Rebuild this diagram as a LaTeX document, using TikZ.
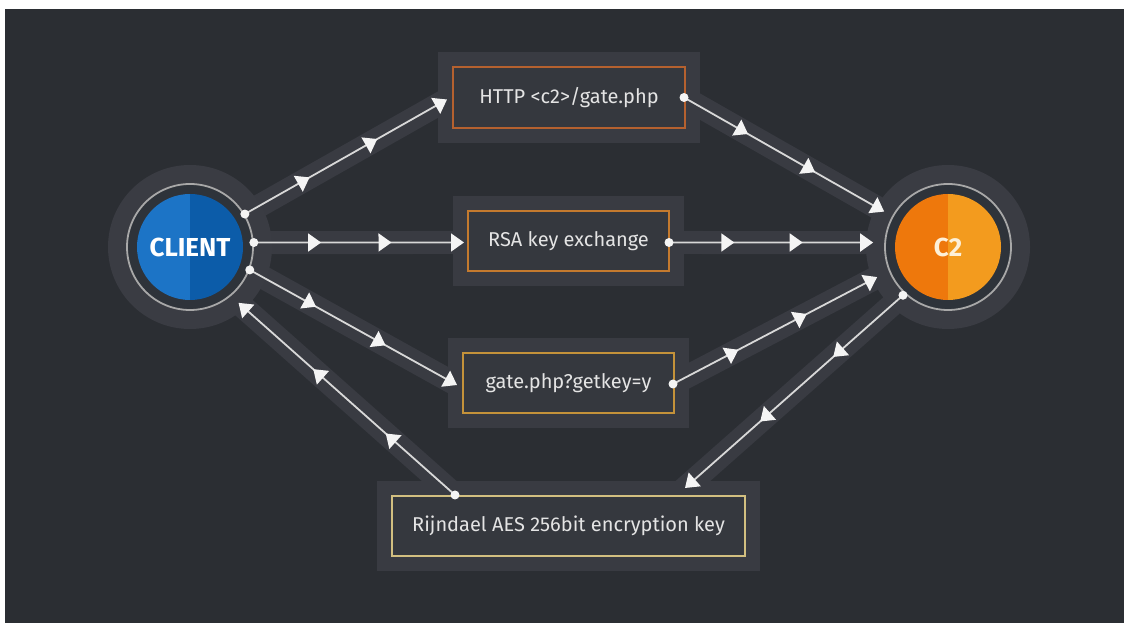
\documentclass[tikz,border=0pt]{standalone}
\usepackage{fontspec}
\setmainfont{Fira Sans}
\usetikzlibrary{arrows.meta,decorations.markings,calc,fit,backgrounds}
\definecolor{bgc}{HTML}{2B2E33}
\definecolor{panelc}{HTML}{393B42}
\definecolor{haloc}{HTML}{3A3C43}
\definecolor{bandc}{HTML}{393B42}
\definecolor{boxin}{HTML}{35383E}
\definecolor{ringin}{HTML}{2E333A}
\definecolor{ringc}{HTML}{A8A8A8}
\definecolor{linec}{HTML}{D8D8D8}
\definecolor{arrc}{HTML}{F4F4F4}
\definecolor{txtc}{HTML}{E4E4E4}
\definecolor{blueL}{HTML}{1C74C6}
\definecolor{blueR}{HTML}{0C5CA9}
\definecolor{orL}{HTML}{EE780C}
\definecolor{orR}{HTML}{F39B1E}
\definecolor{bhttp}{HTML}{B5612F}
\definecolor{brsa}{HTML}{C47A2E}
\definecolor{bgate}{HTML}{C4923A}
\definecolor{baes}{HTML}{D2BF80}
\begin{document}
\begin{tikzpicture}[x=1pt,y=1pt,
  ring/.style={circle, minimum size=126pt, inner sep=0pt, draw=ringc, line width=1.8pt, fill=ringin},
  box/.style={rectangle, minimum height=60pt, inner sep=0pt, fill=boxin, line width=2pt, text=txtc, font=\fontsize{20}{24}\selectfont},
  panel/.style={rectangle, fill=panelc, inner sep=14pt},
  band/.style={draw=bandc, line width=23pt, shorten <=-40pt, shorten >=-30pt},
  conn/.style={draw=linec, line width=1.8pt, -{Triangle[length=13pt,width=18pt,color=arrc]},
    postaction={decorate},
    decoration={markings,
      mark=at position 0.32 with {\arrow{Triangle[length=13pt,width=18pt,color=arrc]}},
      mark=at position 0.655 with {\arrow{Triangle[length=13pt,width=18pt,color=arrc]}}}},
  dot/.style={fill=arrc}
]
\useasboundingbox (0,0) rectangle (1124,628);

% circles
\node[ring, text=white, font=\bfseries\fontsize{26}{26}\selectfont,
  path picture={
    \fill[blueL] ($(path picture bounding box.center)+(0pt,53pt)$) arc[start angle=90,end angle=270,radius=53pt] -- cycle;
    \fill[blueR] ($(path picture bounding box.center)+(0pt,53pt)$) arc[start angle=90,end angle=-90,radius=53pt] -- cycle;
  }] (client) at (190,381) {CLIENT};
\node[ring, text={rgb,255:red,253;green,240;blue,216}, font=\bfseries\fontsize{26}{26}\selectfont,
  path picture={
    \fill[orL] ($(path picture bounding box.center)+(0pt,53pt)$) arc[start angle=90,end angle=270,radius=53pt] -- cycle;
    \fill[orR] ($(path picture bounding box.center)+(0pt,53pt)$) arc[start angle=90,end angle=-90,radius=53pt] -- cycle;
  }] (c2) at (948,381) {C2};

% boxes
\node[box, draw=bhttp, minimum width=232pt, minimum height=61pt] (http) at (569,530.5) {HTTP <c2>/gate.php};
\node[box, draw=brsa, minimum width=201pt] (rsa) at (568.5,387) {RSA key exchange};
\node[box, draw=bgate, minimum width=211pt] (gate) at (568.5,245) {gate.php?getkey=y};
\node[box, draw=baes, minimum width=353pt] (aes) at (568.5,102) {Rijndael AES 256bit encryption key};

% connector end points
\coordinate (ca) at ($(client)+(31:64)$);
\coordinate (cb) at ($(client)+(4:64)$);
\coordinate (cc) at ($(client)+(-21:64)$);
\coordinate (cd) at ($(client)+(-49:74)$);
\coordinate (ke) at ($(c2)+(151:73)$);
\coordinate (kf) at ($(c2)+(176.6:75)$);
\coordinate (kg) at ($(c2)+(203:77)$);
\coordinate (kh) at ($(c2)+(227:66)$);
\coordinate (ha) at ($(http.west)+(-5,-2)$);
\coordinate (he) at ($(http.east)+(-2,0)$);
\coordinate (rb) at ($(rsa.west)+(-3,-1.5)$);
\coordinate (rf) at ($(rsa.east)+(-1,-1.5)$);
\coordinate (gc) at ($(gate.west)+(-5,-2)$);
\coordinate (gg) at ($(gate.east)+(-2,-1)$);
\coordinate (ad) at ($(aes.north west)+(64,0)$);
\coordinate (ah) at ($(aes.north west)+(294,7)$);

% background layer: page, bands, halos, panels
\begin{scope}[on background layer]
  \fill[white] (0,0) rectangle (1124,628);
  \fill[bgc] (5,5) rectangle (1124,619);
  \draw[band] (ca) -- (ha);
  \draw[band] (cb) -- (rb);
  \draw[band] (cc) -- (gc);
  \draw[band] (ad) -- (cd);
  \draw[band] (he) -- (ke);
  \draw[band] (rf) -- (kf);
  \draw[band] (gg) -- (kg);
  \draw[band] (kh) -- (ah);
  \fill[haloc] (client) circle[radius=82pt];
  \fill[haloc] (c2) circle[radius=82pt];
  \node[panel, fit=(http)] (httpP) {};
  \node[panel, fit=(rsa)] (rsaP) {};
  \node[panel, fit=(gate)] (gateP) {};
  \node[panel, fit=(aes)] (aesP) {};
\end{scope}

% connectors
\draw[conn] (ca) -- (ha);
\draw[conn] (cb) -- (rb);
\draw[conn] (cc) -- (gc);
\draw[conn] (ad) -- (cd);
\draw[conn] (he) -- (ke);
\draw[conn] (rf) -- (kf);
\draw[conn] (gg) -- (kg);
\draw[conn] (kh) -- (ah);

% dots
\foreach \p in {ca,cb,cc,ad,he,rf,gg,kh} \fill[dot] (\p) circle[radius=4.5pt];
\end{tikzpicture}
\end{document}
